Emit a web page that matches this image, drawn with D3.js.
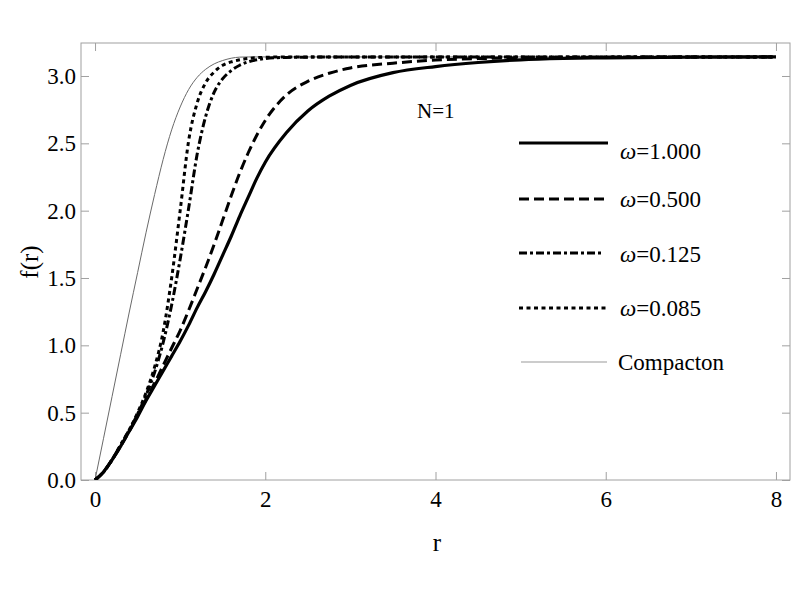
<!DOCTYPE html>
<html>
<head>
<meta charset="utf-8">
<script src="https://cdn.jsdelivr.net/npm/d3@7"></script>
<style>
  body { margin: 0; background: #fff; }
  svg text { font-family: "Liberation Serif", "DejaVu Serif", serif; fill: #000; }
</style>
</head>
<body>
<div id="chart"></div>
<script>
"use strict";

// radial grid shared by every curve
const rGrid = [0, 0.1, 0.2, 0.3, 0.4, 0.5, 0.6, 0.7, 0.8, 0.9, 1.0, 1.1, 1.2, 1.3, 1.4, 1.5,
               1.6, 1.7, 1.8, 1.9, 2.0, 2.25, 2.5, 2.75, 3.0, 3.5, 4.0, 4.5, 5.0, 5.5, 6.0, 7.0, 8.0];

// profile values f(r)
const fOmega1000 = [0, 0.06, 0.15, 0.25, 0.36, 0.47, 0.59, 0.70, 0.81, 0.92, 1.03, 1.15, 1.28, 1.40, 1.53, 1.67,
                    1.81, 1.96, 2.10, 2.24, 2.36, 2.58, 2.74, 2.85, 2.93, 3.025, 3.07, 3.10, 3.12, 3.13, 3.135, 3.14, 3.1416];
const fOmega0500 = [0, 0.06, 0.15, 0.25, 0.36, 0.48, 0.60, 0.72, 0.85, 0.98, 1.11, 1.26, 1.42, 1.58, 1.75, 1.93,
                    2.11, 2.28, 2.43, 2.56, 2.67, 2.86, 2.96, 3.02, 3.06, 3.095, 3.118, 3.129, 3.135, 3.138, 3.14, 3.141, 3.1416];
const fOmega0125 = [0, 0.06, 0.15, 0.26, 0.37, 0.49, 0.63, 0.80, 1.02, 1.30, 1.64, 2.02, 2.42, 2.70, 2.88, 2.98,
                    3.04, 3.08, 3.105, 3.12, 3.13, 3.138, 3.14, 3.141, 3.1416, 3.1416, 3.1416, 3.1416, 3.1416, 3.1416, 3.1416, 3.1416, 3.1416];
const fOmega0085 = [0, 0.06, 0.15, 0.26, 0.37, 0.50, 0.65, 0.84, 1.10, 1.50, 2.00, 2.52, 2.80, 2.95, 3.03, 3.08,
                    3.105, 3.12, 3.13, 3.136, 3.139, 3.141, 3.1416, 3.1416, 3.1416, 3.1416, 3.1416, 3.1416, 3.1416, 3.1416, 3.1416, 3.1416, 3.1416];
const fCompacton = [0, 0.31, 0.62, 0.93, 1.24, 1.54, 1.84, 2.12, 2.38, 2.60, 2.77, 2.90, 2.99, 3.05, 3.09, 3.115,
                    3.132, 3.14, 3.1416, 3.1416, 3.1416, 3.1416, 3.1416, 3.1416, 3.1416, 3.1416, 3.1416, 3.1416, 3.1416, 3.1416, 3.1416, 3.1416, 3.1416];

// legend labels, in drawing order
const seriesLabels = ["\u03c9=1.000", "\u03c9=0.500", "\u03c9=0.125", "\u03c9=0.085", "Compacton"];

// tick values
const xMajorTicks = [0, 2, 4, 6, 8];
const xMinorTicks = d3.range(0, 8.01, 0.5);
const yMajorTicks = [0, 0.5, 1.0, 1.5, 2.0, 2.5, 3.0];
const yMinorTicks = d3.range(0, 3.21, 0.1);

(function(){

  const width = 800, height = 600;
  const box = { left: 81, right: 790, top: 43, bottom: 480 };

  const svg = d3.select("#chart").append("svg")
    .attr("width", width)
    .attr("height", height);

  // scales (frame has a little padding around 0..8 on x)
  const x = d3.scaleLinear().domain([-0.165, 8.165]).range([box.left, box.right]);
  const y = d3.scaleLinear().domain([0, 3.245]).range([box.bottom, box.top]);

  // style of each series: stroke width, dash, colour
  const styles = [
    { w: 3.2, dash: null, color: "#000" },
    { w: 3, dash: "10,5", color: "#000" },
    { w: 3, dash: "8,3,3,3", color: "#000" },
    { w: 3, dash: "4,3.5", color: "#000" },
    { w: 1, dash: null, color: "#6a6a6a" }
  ];
  const seriesValues = [fOmega1000, fOmega0500, fOmega0125, fOmega0085, fCompacton];

  const frameColor = "#a0a0a0";

  // --- frame and ticks ---
  function drawFrame(){
    const gBottom = svg.append("g").attr("transform", `translate(0,${box.bottom})`);
    gBottom.call(d3.axisBottom(x).tickValues(xMinorTicks).tickSize(-4.5).tickFormat(""));
    gBottom.call(d3.axisBottom(x).tickValues(xMajorTicks).tickSize(-8).tickPadding(11).tickFormat(d3.format("d")));

    const gTop = svg.append("g").attr("transform", `translate(0,${box.top})`);
    gTop.call(d3.axisTop(x).tickValues(xMinorTicks).tickSize(-4.5).tickFormat(""));
    gTop.call(d3.axisTop(x).tickValues(xMajorTicks).tickSize(-8).tickFormat(""));

    const gLeft = svg.append("g").attr("transform", `translate(${box.left},0)`);
    gLeft.call(d3.axisLeft(y).tickValues(yMinorTicks).tickSize(-4.5).tickFormat(""));
    gLeft.call(d3.axisLeft(y).tickValues(yMajorTicks).tickSize(-8).tickPadding(5).tickFormat(d3.format(".1f")));

    const gRight = svg.append("g").attr("transform", `translate(${box.right},0)`);
    gRight.call(d3.axisRight(y).tickValues(yMinorTicks).tickSize(-4.5).tickFormat(""));
    gRight.call(d3.axisRight(y).tickValues(yMajorTicks).tickSize(-8).tickFormat(""));

    svg.selectAll(".domain").remove();
    svg.selectAll(".tick line").attr("stroke", frameColor).attr("stroke-width", 1);
    svg.selectAll(".tick text")
      .attr("font-family", "Liberation Serif")
      .attr("font-size", 23)
      .attr("fill", "#000");

    svg.append("rect")
      .attr("x", box.left).attr("y", box.top)
      .attr("width", box.right - box.left).attr("height", box.bottom - box.top)
      .attr("fill", "none").attr("stroke", frameColor).attr("stroke-width", 1);
  }

  // --- curves ---
  function drawCurves(){
    svg.append("clipPath").attr("id", "plotClip")
      .append("rect")
      .attr("x", box.left).attr("y", box.top - 3)
      .attr("width", box.right - box.left).attr("height", box.bottom - box.top + 3);

    const line = d3.line()
      .x(d => x(d[0]))
      .y(d => y(d[1]))
      .curve(d3.curveMonotoneX);

    // draw the thin compacton first, thick ones over it
    const order = [4, 0, 1, 2, 3];
    order.forEach(i => {
      const pts = rGrid.map((r, k) => [r, seriesValues[i][k]]);
      svg.append("path")
        .datum(pts)
        .attr("clip-path", "url(#plotClip)")
        .attr("d", line)
        .attr("fill", "none")
        .attr("stroke", styles[i].color)
        .attr("stroke-width", styles[i].w)
        .attr("stroke-dasharray", styles[i].dash)
        .attr("stroke-linejoin", "round");
    });
  }

  // --- legend and labels ---
  function drawLegend(){
    const lineY = [143, 199, 253, 308, 362];
    const lineEnd = [608, 608, 603, 608, 607];
    const textDy = [16, 8, 9, 8, 8];

    seriesLabels.forEach((label, i) => {
      svg.append("line")
        .attr("x1", i === 4 ? 521 : 519).attr("x2", lineEnd[i])
        .attr("y1", lineY[i]).attr("y2", lineY[i])
        .attr("stroke", i === 4 ? "#999" : styles[i].color)
        .attr("stroke-width", styles[i].w)
        .attr("stroke-dasharray", styles[i].dash);

      const t = svg.append("text")
        .attr("x", i === 4 ? 618 : 620)
        .attr("y", lineY[i] + textDy[i])
        .attr("font-size", 23);
      if (i < 4) {
        t.append("tspan").attr("font-style", "italic").text(label.charAt(0));
        t.append("tspan").text(label.slice(1));
      } else {
        t.text(label);
      }
    });

    svg.append("text")
      .attr("x", 417).attr("y", 118)
      .attr("font-size", 21)
      .text("N=1");

    // axis titles
    svg.append("text")
      .attr("x", 437).attr("y", 551)
      .attr("text-anchor", "middle")
      .attr("font-size", 25)
      .text("r");

    svg.append("text")
      .attr("transform", "translate(38,262) rotate(-90)")
      .attr("text-anchor", "middle")
      .attr("font-size", 25)
      .text("f(r)");
  }

  drawFrame();
  drawCurves();
  drawLegend();

})();
</script>
</body>
</html>
